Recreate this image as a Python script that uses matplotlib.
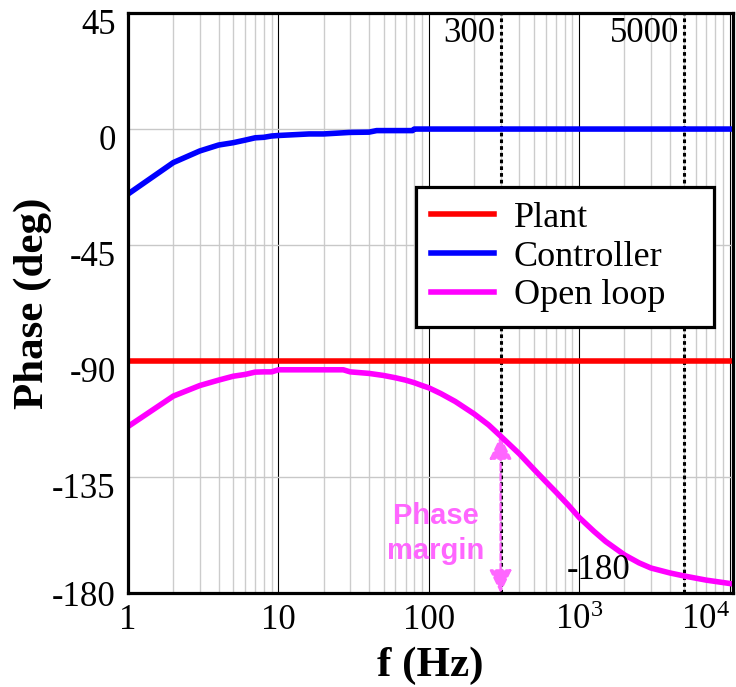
import matplotlib
matplotlib.use("Agg")
import matplotlib.pyplot as plt
import matplotlib.transforms as mtransforms
from matplotlib.ticker import FixedLocator, LogLocator, NullFormatter
from matplotlib.font_manager import FontProperties

SERIF = 'Liberation Serif'
plt.rcParams['font.family'] = 'serif'
plt.rcParams['font.serif'] = [SERIF, 'DejaVu Serif']
plt.rcParams['axes.unicode_minus'] = False
plt.rcParams['mathtext.fontset'] = 'custom'
plt.rcParams['mathtext.rm'] = SERIF
plt.rcParams['mathtext.it'] = SERIF + ':italic'
plt.rcParams['mathtext.bf'] = SERIF + ':bold'

# ---- data ----
plant_f = [1, 10550]
plant_phase = [-90, -90]

ctrl_f = [1, 2, 3, 4, 5, 6, 7, 8, 9, 10, 16, 20, 30, 40, 45, 50, 60, 70, 78, 80, 100, 1000, 10550]
ctrl_phase = [-25.2, -13.0, -8.5, -6.2, -5.3, -4.3, -3.4, -3.2, -2.7, -2.5, -1.9, -1.9, -1.3, -1.2,
              -0.6, -0.6, -0.6, -0.6, -0.6, 0, 0, 0, 0]

ol_f = [1, 2, 3, 4, 5, 6, 7, 8, 9, 10, 20, 27, 30, 40, 50, 60, 70, 80, 90, 100, 120, 150, 200,
        250, 300, 400, 500, 600, 700, 850, 1000, 1250, 1500, 2000, 2500, 3000, 4000, 5000, 7000,
        10000, 10550]
ol_phase = [-115.4, -103.6, -99.5, -97.4, -95.9, -95.2, -94.3, -94.2, -94.2, -93.4, -93.4, -93.4,
            -94.2, -94.8, -95.6, -96.5, -97.4, -98.4, -99.5, -100.4, -102.6, -105.7, -110.5,
            -114.8, -119.1, -126.0, -132.0, -136.8, -140.8, -146.0, -150.7, -156.0, -160.0,
            -165.2, -168.3, -170.3, -172.2, -173.4, -175.0, -176.3, -176.5]

marker_f = [300, 5000]
marker_labels = ['300', '5000']
pm_f = 300
pm_phase = -119.1

yticks = [45, 0, -45, -90, -135, -180]
ytick_labels = ['45', '0', '-45', '-90', '-135', '-180']
xticks = [1, 10, 100, 1000, 10000]
xtick_labels = ['1', '10', '100', r'$\mathregular{10^3}$', r'$\mathregular{10^4}$']

# ---- figure ----
fig = plt.figure(figsize=(7.36, 6.87), dpi=100)
ax = fig.add_axes([0.174, 0.1368, 0.822, 0.8442])

ax.set_xscale('log')
ax.set_xlim(1, 10550)
ax.set_ylim(-180, 45)

tickfont = dict(family=SERIF, size=25)

ax.xaxis.set_major_locator(FixedLocator(xticks))
ax.xaxis.set_minor_locator(LogLocator(base=10, subs=range(2, 10)))
ax.xaxis.set_minor_formatter(NullFormatter())
ax.set_yticks(yticks)
ax.set_yticklabels(ytick_labels, fontdict=tickfont)
ax.set_xticklabels(xtick_labels, fontdict=tickfont)
ax.grid(True, which='minor', axis='x', color='#cccccc', lw=1.0)
ax.grid(True, which='major', axis='x', color='black', lw=0.8)
ax.grid(True, which='major', axis='y', color='#c8c8c8', lw=1.0)
ax.set_axisbelow(True)

# dotted marker lines
for f, lab in zip(marker_f, marker_labels):
    ax.axvline(f, color='black', lw=2.2, linestyle=(0, (1.2, 1.0)), zorder=2)
    ax.text(f / 1.08, 43.5, lab, ha='right', va='top', fontsize=25, family=SERIF, zorder=5)

# curves
ax.plot(plant_f, plant_phase, color='#ff0000', lw=4, label='Plant', zorder=4)
ax.plot(ctrl_f, ctrl_phase, color='#0000ff', lw=4, label='Controller', zorder=4)
ax.plot(ol_f, ol_phase, color='#ff00ff', lw=4, label='Open loop', zorder=4)

# phase margin arrow
pm_color = '#ff66ff'
ax.annotate('', xy=(pm_f, pm_phase), xytext=(pm_f, -180),
            arrowprops=dict(arrowstyle='<|-|>,head_length=1.45,head_width=0.7',
                            color=pm_color, lw=1.6, linestyle=(0, (3, 1.5)),
                            shrinkA=0, shrinkB=0), zorder=3)
ax.text(111, -157, 'Phase\nmargin', color=pm_color, fontsize=21, fontweight='bold',
        family=['Liberation Sans', 'DejaVu Sans'], ha='center', va='center',
        linespacing=1.3, zorder=5)

ax.text(2200, -177.5, '-180', ha='right', va='bottom', fontsize=25, family=SERIF, zorder=5)

ax.tick_params(axis='both', which='both', length=0)
ax.tick_params(axis='x', pad=8)
ax.tick_params(axis='y', pad=9)
xl = ax.get_xticklabels()
xl[-1].set_horizontalalignment('right')

# y tick labels sit slightly below their grid lines in the reference
for lbl in ax.get_yticklabels()[:-1]:
    lbl.set_transform(lbl.get_transform() +
                      mtransforms.ScaledTranslation(0, -6 / 72, fig.dpi_scale_trans))

for s in ax.spines.values():
    s.set_linewidth(2.3)
    s.set_zorder(6)

ax.set_xlabel('f (Hz)', fontsize=31, fontweight='bold', family=SERIF, labelpad=7)
ax.set_ylabel('Phase (deg)', fontsize=31, fontweight='bold', family=SERIF, labelpad=0)

leg = ax.legend(loc='upper left', bbox_to_anchor=(0.476, 0.0, 0.4926, 0.700), mode='expand',
                borderaxespad=0, prop=FontProperties(family=SERIF, size=26),
                handlelength=1.75, handletextpad=0.55, labelspacing=0.145,
                borderpad=0.41, fancybox=False, framealpha=1, edgecolor='black')
leg.get_frame().set_linewidth(2.3)
leg.set_zorder(10)

fig.savefig('out.png', dpi=100)
